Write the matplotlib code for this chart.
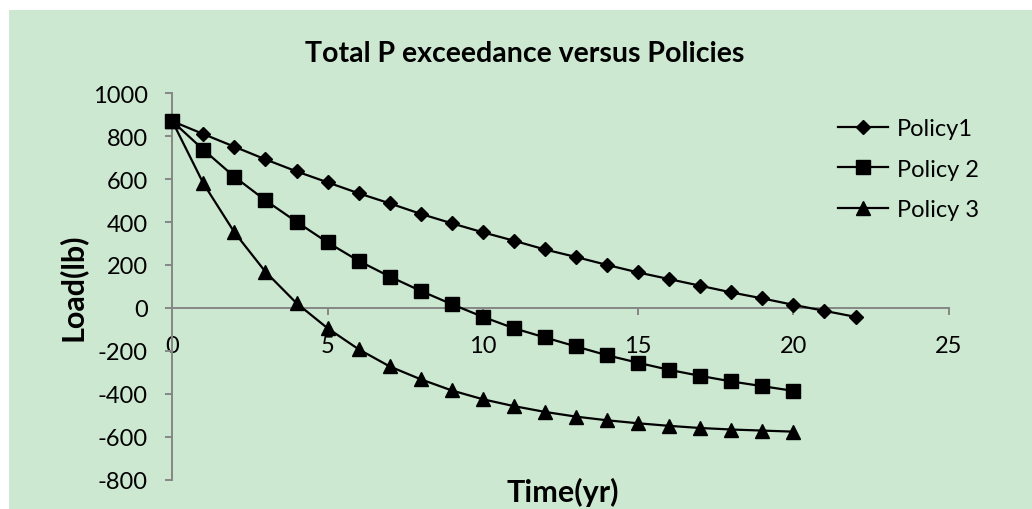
import matplotlib
matplotlib.use("Agg")
import matplotlib.pyplot as plt
from matplotlib.patches import Rectangle

plt.rcParams['font.family'] = ['Lato', 'DejaVu Sans']
plt.rcParams['axes.unicode_minus'] = False

years = list(range(0, 23))
policy1 = [870, 810, 751, 692, 636, 585, 534, 487, 438, 394, 352, 313,
           272, 237, 200, 165, 134, 103, 72, 44, 14, -14, -42]
policy2 = [870, 737, 611, 501, 401, 305, 219, 146, 79, 17, -42, -95,
           -138, -180, -221, -256, -289, -317, -343, -365, -387]
policy3 = [870, 580, 352, 168, 22, -95, -193, -273, -333, -385, -426, -458,
           -485, -507, -524, -538, -550, -560, -567, -572, -577]
labels = ["Policy1", "Policy 2", "Policy 3"]
title = "Total P exceedance versus Policies"
xlabel = "Time(yr)"
ylabel = "Load(lb)"
xticks = [0, 5, 10, 15, 20, 25]
yticks = [-800, -600, -400, -200, 0, 200, 400, 600, 800, 1000]

bg = "#CDE8D1"
axis_gray = "#868686"

fig = plt.figure(figsize=(10.32, 5.10), dpi=100)
fig.patch.set_facecolor("white")
fig.patches.append(Rectangle((9 / 1032, 0), 1 - 9 / 1032, 1 - 11 / 510,
                             transform=fig.transFigure, facecolor=bg,
                             edgecolor="none", zorder=-5))

ax = fig.add_axes([172.3 / 1032, 1 - 480.5 / 510, (948.7 - 172.3) / 1032,
                   (480.5 - 94.3) / 510])
ax.set_facecolor("none")
ax.set_zorder(2)

lw = 1.6
ax.plot(years[:len(policy1)], policy1, color="black", lw=lw, marker="D",
        ms=7.2, label=labels[0], clip_on=False, zorder=3)
ax.plot(years[:len(policy2)], policy2, color="black", lw=lw, marker="s",
        ms=10.5, label=labels[1], clip_on=False, zorder=3)
ax.plot(years[:len(policy3)], policy3, color="black", lw=lw, marker="^",
        ms=10.5, label=labels[2], clip_on=False, zorder=3)

ax.set_xlim(0, 25)
ax.set_ylim(-800, 1000)
ax.set_xticks(xticks)
ax.set_yticks(yticks)

for s in ["top", "right"]:
    ax.spines[s].set_visible(False)
ax.spines["bottom"].set_position(("data", 0))
for s in ["left", "bottom"]:
    ax.spines[s].set_color(axis_gray)
    ax.spines[s].set_linewidth(1.4)

ax.tick_params(axis="y", direction="out", length=5, width=1.4, color=axis_gray,
               labelsize=17, pad=12.5, labelcolor="black")
ax.tick_params(axis="x", direction="out", length=5, width=1.4, color=axis_gray,
               labelsize=17, pad=14.5, labelcolor="black")

fig.text(525 / 1032, 1 - 61.7 / 510, title, ha="center", va="baseline",
         fontsize=20.5, fontweight="bold")
fig.text(563 / 1032, 1 - 501.7 / 510, xlabel, ha="center", va="baseline",
         fontsize=22, fontweight="bold")
fig.text(72 / 1032, 1 - 287 / 510, ylabel, ha="center", va="center",
         rotation=90, fontsize=22, fontweight="bold")

leg = fig.legend(loc="upper left", bbox_to_anchor=(838 / 1032, 1 - 119 / 510),
                 frameon=False, fontsize=17, handlelength=2.1,
                 handletextpad=0.4, labelspacing=0.83, borderpad=0,
                 borderaxespad=0)

fig.savefig("out.png", dpi=100, facecolor=fig.get_facecolor())
